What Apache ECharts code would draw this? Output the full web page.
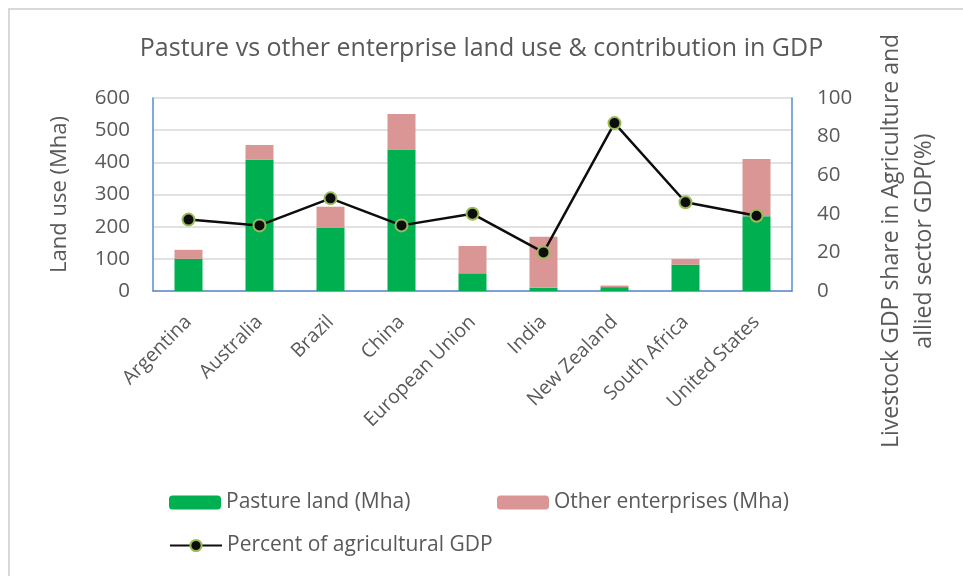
<!DOCTYPE html>
<html>
<head>
<meta charset="utf-8">
<script src="https://cdn.jsdelivr.net/npm/echarts@6/dist/echarts.min.js"></script>
<style>
  html, body { margin: 0; padding: 0; background: #fff; }
  #frame { position: absolute; left: 8px; top: 8px; width: 980px; height: 600px;
           border: 2px solid #d9d9d9; box-sizing: border-box; }
  #chart { position: absolute; left: 0; top: 0; width: 963px; height: 576px; }
</style>
</head>
<body>
<div id="frame"></div>
<div id="chart"></div>
<script>
// 数据
const countries = ['Argentina', 'Australia', 'Brazil', 'China', 'European Union',
  'India', 'New Zealand', 'South Africa', 'United States'];
const pastureLand = [100, 408, 196, 440, 55, 10, 12, 82, 232];
const otherEnterprises = [28, 46, 66, 110, 85, 159, 5, 18, 178];
const agriGdpShare = [37, 34, 48, 34, 40, 20, 87, 46, 39];
const leftTicks = [0, 600, 100];   // min, max, interval
const rightTicks = [0, 100, 20];

const font = 'Open Sans';
const textColor = '#595959';

const chart = echarts.init(document.getElementById('chart'));

const legendText = { color: textColor, fontSize: 21, fontFamily: font };

const option = {
  animation: false,
  title: {
    text: 'Pasture vs other enterprise land use & contribution in GDP',
    left: 'center',
    top: 31,
    textStyle: { color: textColor, fontSize: 25, fontWeight: 'normal', fontFamily: font }
  },
  grid: { left: 153, right: 171, top: 98, bottom: 285 },
  legend: [
    {
      data: ['Pasture land (Mha)'],
      left: 164, top: 487,
      itemWidth: 52, itemHeight: 14,
      textStyle: legendText
    },
    {
      data: ['Other enterprises (Mha)'],
      left: 492, top: 487,
      itemWidth: 52, itemHeight: 14,
      textStyle: legendText
    },
    {
      data: ['Percent of agricultural GDP'],
      left: 164, top: 530,
      itemWidth: 52, itemHeight: 14,
      textStyle: legendText
    }
  ],
  xAxis: {
    type: 'category',
    data: countries,
    axisLine: { lineStyle: { color: '#5b8bd0', width: 1.5 } },
    axisTick: { show: false },
    axisLabel: {
      rotate: 45,
      interval: 0,
      margin: 28,
      color: textColor,
      fontSize: 19.5,
      fontFamily: font
    }
  },
  yAxis: [
    {
      type: 'value',
      min: leftTicks[0], max: leftTicks[1], interval: leftTicks[2],
      name: 'Land use (Mha)',
      nameLocation: 'middle',
      nameGap: 82,
      nameTextStyle: { color: textColor, fontSize: 22, fontFamily: font },
      axisLine: { show: true, lineStyle: { color: '#5b8bd0', width: 1.5 } },
      axisTick: { show: false },
      axisLabel: { color: textColor, fontSize: 20.5, fontFamily: font, margin: 23 },
      splitLine: { lineStyle: { color: '#d9d9d9', width: 1.5 } }
    },
    {
      type: 'value',
      min: rightTicks[0], max: rightTicks[1], interval: rightTicks[2],
      position: 'right',
      axisLine: { show: true, lineStyle: { color: '#5b8bd0', width: 1.5 } },
      axisTick: { show: false },
      axisLabel: { color: textColor, fontSize: 20.5, fontFamily: font, margin: 25 },
      splitLine: { show: false }
    }
  ],
  graphic: [
    {
      type: 'text',
      x: 908, y: 241,
      rotation: Math.PI / 2,
      style: {
        text: 'Livestock GDP share in Agriculture and\nallied sector GDP(%)',
        fill: textColor,
        font: '23px "' + font + '"',
        align: 'center',
        verticalAlign: 'middle',
        lineHeight: 33
      }
    }
  ],
  series: [
    {
      name: 'Pasture land (Mha)',
      type: 'bar',
      stack: 'land',
      barWidth: 28,
      data: pastureLand,
      itemStyle: { color: '#00b050' }
    },
    {
      name: 'Other enterprises (Mha)',
      type: 'bar',
      stack: 'land',
      barWidth: 28,
      data: otherEnterprises,
      itemStyle: { color: '#d99694' }
    },
    {
      name: 'Percent of agricultural GDP',
      type: 'line',
      yAxisIndex: 1,
      data: agriGdpShare,
      symbol: 'circle',
      symbolSize: 12,
      lineStyle: { color: '#0d0d0d', width: 2.5 },
      itemStyle: { color: '#0d0d0d', borderColor: '#9bbb59', borderWidth: 2 },
      z: 5
    }
  ]
};

chart.setOption(option);
</script>
</body>
</html>
